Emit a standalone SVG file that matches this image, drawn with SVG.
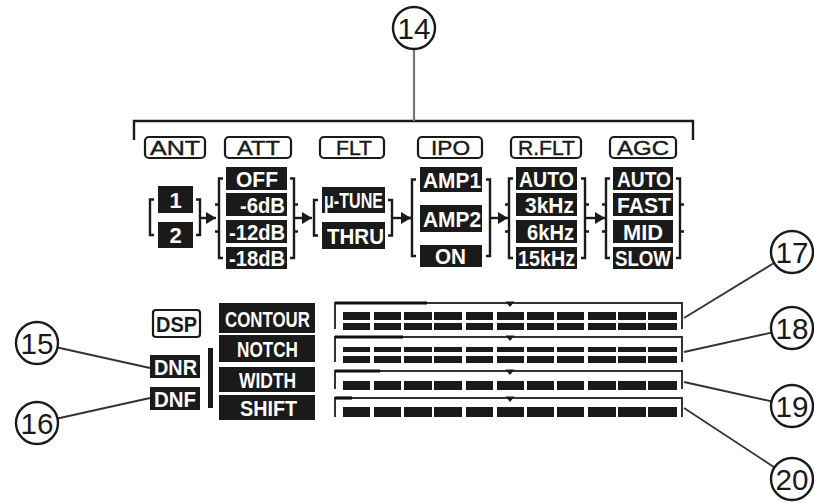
<svg xmlns="http://www.w3.org/2000/svg" width="814" height="503" viewBox="0 0 814 503">
<style>
.lbl{fill:#fff;stroke:#1a1a1a;stroke-width:2.2}
.lt{font-family:"Liberation Sans",Arial,sans-serif;font-size:20px;fill:#1a1a1a;stroke:#1a1a1a;stroke-width:0.4}
.blk{fill:#1a1a1a}
.bt{font-family:"Liberation Sans",Arial,sans-serif;font-weight:bold;font-size:22px;fill:#fff}
.br{fill:none;stroke:#1a1a1a;stroke-width:2.4}
.seg{fill:#1a1a1a}
.bar{fill:none;stroke:#333;stroke-width:2}
.thk{fill:none;stroke:#111;stroke-width:3.2}
.cc{fill:#fff;stroke:#1a1a1a;stroke-width:2.4}
.ct{font-family:"Liberation Sans",Arial,sans-serif;font-size:30px;fill:#1a1a1a;text-anchor:middle}
.ln{fill:none;stroke:#333;stroke-width:1.8}
.ar{fill:none;stroke:#1a1a1a;stroke-width:2.4}
</style>
<defs>
<marker id="arr" viewBox="0 0 10 12" refX="10" refY="6" markerWidth="10" markerHeight="12" markerUnits="userSpaceOnUse" orient="auto">
<path d="M0,0 L10,6 L0,12 z" fill="#1a1a1a"/>
</marker>
<path id="tri" d="M-4.5,-1.5 H4.5 L0,4 z" fill="#1a1a1a"/>
<g id="row" class="seg">
<rect x="343" width="27" height="1"/><rect x="374" width="27" height="1"/><rect x="404" width="28" height="1"/><rect x="434" width="28" height="1"/><rect x="466" width="27" height="1"/><rect x="497" width="27" height="1"/><rect x="527" width="27" height="1"/><rect x="557" width="27" height="1"/><rect x="588" width="28" height="1"/><rect x="618" width="28" height="1"/><rect x="648" width="29" height="1"/>
</g>
</defs>
<rect width="814" height="503" fill="#fff"/>

<g id="connectors">
<path d="M134,140 V121 H693 V140" class="ar" stroke-width="2"/>
<line x1="414" y1="49" x2="414" y2="121" stroke="#777" stroke-width="2.2"/>
<line x1="200" y1="218" x2="216" y2="218" class="ar" marker-end="url(#arr)"/>
<line x1="294" y1="218" x2="312" y2="218" class="ar" marker-end="url(#arr)"/>
<line x1="392" y1="218" x2="411" y2="218" class="ar" marker-end="url(#arr)"/>
<line x1="490" y1="218" x2="508" y2="218" class="ar" marker-end="url(#arr)"/>
<line x1="585" y1="218" x2="605" y2="218" class="ar" marker-end="url(#arr)"/>
<line x1="57.5" y1="347.5" x2="150" y2="368" class="ln"/>
<line x1="57.5" y1="418.5" x2="150" y2="398" class="ln"/>
<line x1="684" y1="318" x2="774" y2="263" class="ln"/>
<line x1="684" y1="352" x2="771.5" y2="332.6" class="ln"/>
<line x1="684" y1="382" x2="771.5" y2="401.4" class="ln"/>
<line x1="684" y1="408" x2="774.5" y2="467.4" class="ln"/>
</g>

<g id="c14"><circle cx="414" cy="28" r="21" class="cc"/><text x="414" y="39" class="ct" textLength="33" lengthAdjust="spacingAndGlyphs">14</text></g>
<g id="c15"><circle cx="37" cy="343" r="21" class="cc"/><text x="37" y="354" class="ct" textLength="33" lengthAdjust="spacingAndGlyphs">15</text></g>
<g id="c16"><circle cx="37" cy="423" r="21" class="cc"/><text x="37" y="434" class="ct" textLength="33" lengthAdjust="spacingAndGlyphs">16</text></g>
<g id="c17"><circle cx="792" cy="252" r="21" class="cc"/><text x="792" y="263" class="ct" textLength="33" lengthAdjust="spacingAndGlyphs">17</text></g>
<g id="c18"><circle cx="792" cy="328" r="21" class="cc"/><text x="792" y="339" class="ct" textLength="33" lengthAdjust="spacingAndGlyphs">18</text></g>
<g id="c19"><circle cx="792" cy="406" r="21" class="cc"/><text x="792" y="417" class="ct" textLength="33" lengthAdjust="spacingAndGlyphs">19</text></g>
<g id="c20"><circle cx="792" cy="479" r="21" class="cc"/><text x="792" y="490" class="ct" textLength="33" lengthAdjust="spacingAndGlyphs">20</text></g>

<g id="ant">
<rect x="145" y="137" width="60" height="21" rx="4" class="lbl"/>
<text x="150" y="155" class="lt" textLength="50" lengthAdjust="spacingAndGlyphs">ANT</text>
<path d="M154,199.5 H150 V235 H154" class="br"/>
<path d="M196,199.5 H200 V235 H196" class="br"/>
<rect x="158" y="186" width="35" height="27" class="blk"/>
<text x="175.5" y="207.5" class="bt" text-anchor="middle">1</text>
<rect x="158" y="222" width="35" height="26" class="blk"/>
<text x="175.5" y="243" class="bt" text-anchor="middle">2</text>
</g>

<g id="att">
<rect x="225" y="137" width="66" height="21" rx="4" class="lbl"/>
<text x="237" y="155" class="lt" textLength="43" lengthAdjust="spacingAndGlyphs">ATT</text>
<path d="M223,178.5 H219 V258 H223 M215,204.5 H219 M215,231.5 H219" class="br"/>
<path d="M290,178.5 H294 V258 H290 M294,204.5 H298 M294,231.5 H298" class="br"/>
<rect x="226" y="167" width="61" height="23" class="blk"/>
<text x="236" y="186.5" class="bt" textLength="42" lengthAdjust="spacingAndGlyphs">OFF</text>
<rect x="226" y="193" width="61" height="23" class="blk"/>
<text x="240" y="212.5" class="bt" textLength="45" lengthAdjust="spacingAndGlyphs">-6dB</text>
<rect x="226" y="220" width="61" height="23" class="blk"/>
<text x="229" y="239.5" class="bt" textLength="56" lengthAdjust="spacingAndGlyphs">-12dB</text>
<rect x="226" y="247" width="61" height="22" class="blk"/>
<text x="229" y="266" class="bt" textLength="56" lengthAdjust="spacingAndGlyphs">-18dB</text>
</g>

<g id="flt">
<rect x="320" y="137" width="64" height="21" rx="4" class="lbl"/>
<text x="336" y="155" class="lt" textLength="36" lengthAdjust="spacingAndGlyphs">FLT</text>
<path d="M318,200 H314 V235.5 H318" class="br"/>
<path d="M388,200 H392 V235.5 H388" class="br"/>
<rect x="322" y="187" width="63" height="26" class="blk"/>
<text x="324" y="207.5" class="bt" font-size="19" textLength="59" lengthAdjust="spacingAndGlyphs">μ-TUNE</text>
<rect x="322" y="222" width="63" height="27" class="blk"/>
<text x="327" y="243.5" class="bt" textLength="57" lengthAdjust="spacingAndGlyphs">THRU</text>
</g>

<g id="ipo">
<rect x="418" y="137" width="64" height="21" rx="4" class="lbl"/>
<text x="431" y="155" class="lt" textLength="39" lengthAdjust="spacingAndGlyphs">IPO</text>
<path d="M416,179.5 H412 V256 H416 M408,218 H412" class="br"/>
<path d="M486,179.5 H490 V256 H486" class="br"/>
<rect x="420" y="167" width="62" height="25" class="blk"/>
<text x="423" y="187.5" class="bt" textLength="58" lengthAdjust="spacingAndGlyphs">AMP1</text>
<rect x="420" y="205" width="62" height="27" class="blk"/>
<text x="423" y="226.5" class="bt" textLength="58" lengthAdjust="spacingAndGlyphs">AMP2</text>
<rect x="420" y="245" width="62" height="22" class="blk"/>
<text x="435" y="264" class="bt" textLength="31" lengthAdjust="spacingAndGlyphs">ON</text>
</g>

<g id="rflt">
<rect x="511" y="137" width="70" height="21" rx="4" class="lbl"/>
<text x="518" y="155" class="lt" textLength="57" lengthAdjust="spacingAndGlyphs">R.FLT</text>
<path d="M513,178.5 H509 V258 H513 M505,204.5 H509 M505,231.5 H509" class="br"/>
<path d="M581,178.5 H585 V258 H581 M585,204.5 H589 M585,231.5 H589" class="br"/>
<rect x="516" y="167" width="61" height="23" class="blk"/>
<text x="519" y="186.5" class="bt" textLength="55" lengthAdjust="spacingAndGlyphs">AUTO</text>
<rect x="516" y="193" width="61" height="23" class="blk"/>
<text x="525" y="212.5" class="bt" textLength="49" lengthAdjust="spacingAndGlyphs">3kHz</text>
<rect x="516" y="220" width="61" height="23" class="blk"/>
<text x="527" y="239.5" class="bt" textLength="47" lengthAdjust="spacingAndGlyphs">6kHz</text>
<rect x="516" y="247" width="61" height="22" class="blk"/>
<text x="518" y="266" class="bt" textLength="57" lengthAdjust="spacingAndGlyphs">15kHz</text>
</g>

<g id="agc">
<rect x="610" y="137" width="66" height="21" rx="4" class="lbl"/>
<text x="617" y="155" class="lt" textLength="52" lengthAdjust="spacingAndGlyphs">AGC</text>
<path d="M610,178.5 H606 V258 H610 M602,204.5 H606 M602,231.5 H606" class="br"/>
<path d="M676,178.5 H680 V258 H676 M680,204.5 H684 M680,231.5 H684" class="br"/>
<rect x="613" y="167" width="60" height="23" class="blk"/>
<text x="617" y="186.5" class="bt" textLength="54" lengthAdjust="spacingAndGlyphs">AUTO</text>
<rect x="613" y="193" width="60" height="23" class="blk"/>
<text x="617" y="212.5" class="bt" textLength="54" lengthAdjust="spacingAndGlyphs">FAST</text>
<rect x="613" y="220" width="60" height="23" class="blk"/>
<text x="623" y="239.5" class="bt" textLength="40" lengthAdjust="spacingAndGlyphs">MID</text>
<rect x="613" y="247" width="60" height="22" class="blk"/>
<text x="615" y="266" class="bt" textLength="56" lengthAdjust="spacingAndGlyphs">SLOW</text>
</g>

<g id="dsp">
<rect x="153" y="310" width="47" height="27" rx="3" class="lbl"/>
<text x="156" y="332" class="bt" style="fill:#1a1a1a" textLength="41" lengthAdjust="spacingAndGlyphs">DSP</text>
</g>
<g id="dnr">
<rect x="150" y="355" width="50" height="23" class="blk"/>
<text x="154" y="374.5" class="bt" textLength="43" lengthAdjust="spacingAndGlyphs">DNR</text>
</g>
<g id="dnf">
<rect x="150" y="387" width="50" height="23" class="blk"/>
<text x="154" y="406.5" class="bt" textLength="42" lengthAdjust="spacingAndGlyphs">DNF</text>
</g>
<rect id="dsp-bar" x="208" y="348" width="5" height="60" class="blk"/>

<g id="contour">
<rect x="219" y="303" width="96" height="30" class="blk"/>
<text x="225" y="326.5" class="bt" font-size="23" textLength="85" lengthAdjust="spacingAndGlyphs">CONTOUR</text>
</g>
<g id="notch">
<rect x="219" y="335" width="96" height="27" class="blk"/>
<text x="237" y="357" class="bt" font-size="23" textLength="61" lengthAdjust="spacingAndGlyphs">NOTCH</text>
</g>
<g id="width">
<rect x="219" y="367" width="96" height="25" class="blk"/>
<text x="239" y="388" class="bt" font-size="23" textLength="57" lengthAdjust="spacingAndGlyphs">WIDTH</text>
</g>
<g id="shift">
<rect x="219" y="395" width="96" height="25" class="blk"/>
<text x="240" y="416" class="bt" font-size="23" textLength="57" lengthAdjust="spacingAndGlyphs">SHIFT</text>
</g>

<g id="bar-contour">
<path d="M335,329 V303 H682 V329" class="bar"/>
<path d="M335,303 H427" class="thk"/>
<use href="#tri" x="510" y="303"/>
<use href="#row" transform="translate(0,312) scale(1,8)"/>
<use href="#row" transform="translate(0,323) scale(1,7)"/>
</g>
<g id="bar-notch">
<path d="M335,362 V337 H682 V362" class="bar"/>
<path d="M335,337 H403" class="thk"/>
<use href="#tri" x="510" y="337"/>
<use href="#row" transform="translate(0,347) scale(1,5)"/>
<use href="#row" transform="translate(0,356) scale(1,7)"/>
</g>
<g id="bar-width">
<path d="M335,389 V371 H682 V389" class="bar"/>
<path d="M335,371 H380" class="thk"/>
<use href="#tri" x="510" y="371"/>
<use href="#row" transform="translate(0,381) scale(1,9)"/>
</g>
<g id="bar-shift">
<path d="M335,417 V398 H682 V417" class="bar"/>
<path d="M335,398 H352" class="thk"/>
<use href="#tri" x="510" y="398"/>
<use href="#row" transform="translate(0,407) scale(1,10)"/>
</g>
</svg>
